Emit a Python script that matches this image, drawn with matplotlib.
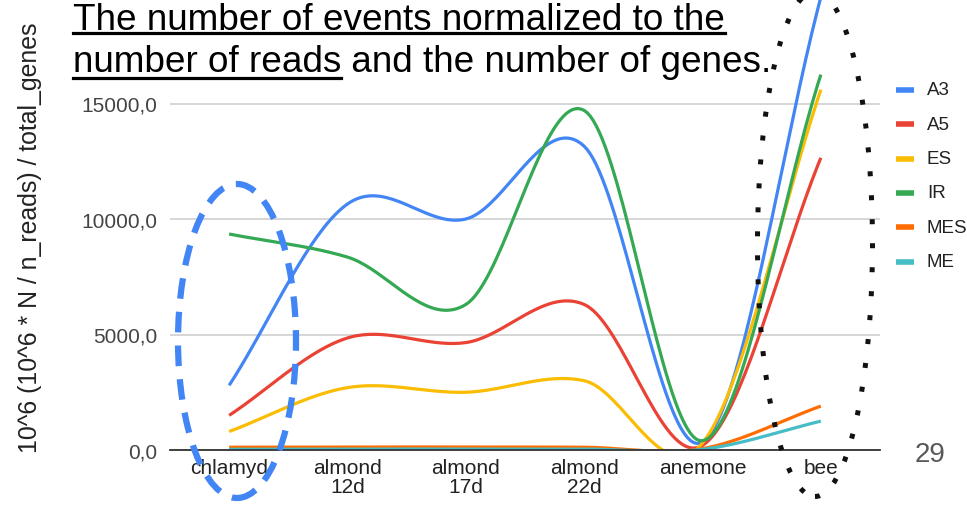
import matplotlib
matplotlib.use("Agg")
import matplotlib.pyplot as plt
from matplotlib.lines import Line2D
from matplotlib.patches import Ellipse
import numpy as np

plt.rcParams['font.family'] = ['Liberation Sans', 'DejaVu Sans']

categories = ["chlamyd", "almond\n12d", "almond\n17d", "almond\n22d", "anemone", "bee"]
series_names = ["A3", "A5", "ES", "IR", "MES", "ME"]
a3 = [2800, 10650, 10000, 13150, 350, 19600]
a5 = [1500, 4850, 4650, 6300, 200, 12650]
es = [800, 2700, 2500, 3000, 300, 15600]
ir = [9350, 8350, 6300, 14700, 400, 16250]
mes = [120, 130, 130, 120, 60, 1900]
me = [30, 40, 40, 40, 30, 1250]
series_values = [a3, a5, es, ir, mes, me]
colors = ["#4285F4", "#EA4335", "#FBBC04", "#34A853", "#FF6D01", "#46BDC6"]
yticks = [0, 5000, 10000, 15000]
ytick_labels = ["0,0", "5000,0", "10000,0", "15000,0"]

W, H = 967, 506


def smooth(y, n=40):
    # catmull-rom style curve through the points (like the "smooth" option of the sheet chart)
    y = np.asarray(y, dtype=float)
    k = len(y)
    m = np.zeros(k)
    m[0] = y[1] - y[0]
    m[-1] = y[-1] - y[-2]
    m[1:-1] = (y[2:] - y[:-2]) / 2
    xs, ys = [], []
    for i in range(k - 1):
        t = np.linspace(0, 1, n)
        h00 = 2 * t**3 - 3 * t**2 + 1
        h10 = t**3 - 2 * t**2 + t
        h01 = -2 * t**3 + 3 * t**2
        h11 = t**3 - t**2
        xs.append(i + t)
        ys.append(h00 * y[i] + h10 * m[i] + h01 * y[i + 1] + h11 * m[i + 1])
    return np.concatenate(xs), np.concatenate(ys)


fig = plt.figure(figsize=(W / 100, H / 100), dpi=100)
ax = fig.add_axes([170 / W, (H - 451) / H, 710 / W, 451 / H])

x = np.arange(len(categories))
for vals, c in zip(series_values, colors):
    sx, sy = smooth(vals)
    ax.plot(sx, sy, color=c, lw=2.3, solid_capstyle='butt')

ax.set_xlim(-0.5, len(categories) - 0.5)
ax.set_ylim(0, 451 / 23.1 * 1000)
ax.set_yticks(yticks)
ax.set_yticklabels(ytick_labels)
ax.set_xticks(x)
ax.set_xticklabels(categories, linespacing=0.95)
ax.tick_params(axis='y', length=0, pad=9, labelsize=15, labelcolor="#444444")
ax.tick_params(axis='x', length=0, pad=6, labelsize=15, labelcolor="#222222")
for s in ["top", "right", "left"]:
    ax.spines[s].set_visible(False)
ax.spines["bottom"].set_color("#333333")
ax.spines["bottom"].set_linewidth(1.3)
ax.grid(axis='y', color="#cccccc", lw=1.1)
ax.set_axisbelow(True)

# y label
fig.text(30 / W, 1 - 238 / H, "10^6 (10^6 * N / n_reads) / total_genes",
         rotation=90, ha='center', va='center', fontsize=17.9, color="#222222")

# legend
for i, (name, c) in enumerate(zip(series_names, colors)):
    yy = 1 - (91 + i * 34.3) / H
    fig.add_artist(Line2D([896 / W, 914 / W], [yy, yy], color=c, lw=4, solid_capstyle='butt'))
    fig.text(927 / W, yy, name, ha='left', va='center', fontsize=13.5, color="#222222")

# title with underline
fs = 26.6
t1 = fig.text(73 / W, 1 - 30 / H, "The number of events normalized to the",
              fontsize=fs, ha='left', va='baseline', color="black")
t2a = fig.text(73 / W, 1 - 72 / H, "number of reads",
               fontsize=fs, ha='left', va='baseline', color="black")
fig.canvas.draw()
r = fig.canvas.get_renderer()
b1 = t1.get_window_extent(r)
b2 = t2a.get_window_extent(r)
fig.text(b2.x1 / W, 1 - 72 / H, " and the number of genes.",
         fontsize=fs, ha='left', va='baseline', color="black")
fig.add_artist(Line2D([b1.x0 / W, b1.x1 / W], [1 - 33.5 / H, 1 - 33.5 / H], color="black", lw=2.3))
fig.add_artist(Line2D([b2.x0 / W, b2.x1 / W], [1 - 78.5 / H, 1 - 78.5 / H], color="black", lw=2.3))

# annotation ellipses
fig.add_artist(Ellipse((237 / W, 1 - 342 / H), 118 / W, 314 / H, fill=False,
                       edgecolor="#4285F4", lw=4.5, linestyle=(0, (3.3, 2.1))))
fig.add_artist(Ellipse((815 / W, 1 - 245 / H), 115 / W, 505 / H, fill=False,
                       edgecolor="#111111", lw=3.6, linestyle=(0, (1, 3.8)),
                       capstyle='butt'))

# page number
fig.text(930 / W, 1 - 455 / H, "29", ha='center', va='center', fontsize=20, color="#595959")

fig.savefig("out.png", dpi=100)
